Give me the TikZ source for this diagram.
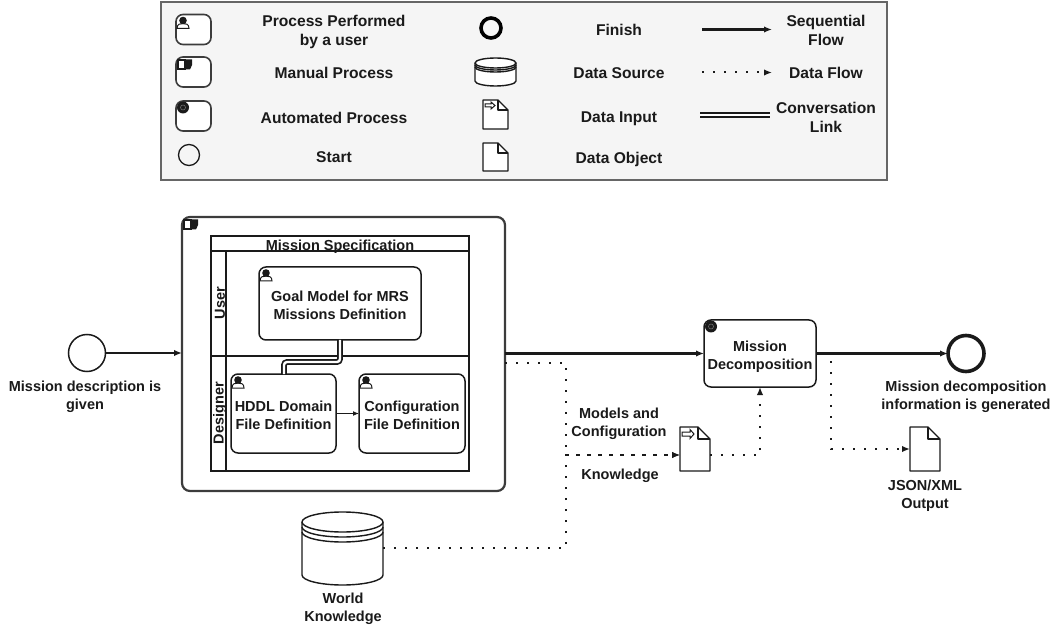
\documentclass[tikz,border=0pt]{standalone}
\usepackage{fontspec}
\setmainfont{Liberation Sans}
\usetikzlibrary{arrows.meta,calc}
\definecolor{ink}{HTML}{1A1A1A}
\definecolor{legbg}{HTML}{F5F5F5}
\definecolor{legln}{HTML}{666666}
\newcommand{\docnode}[6]{%
  \node[inner sep=0pt,outer sep=0pt,minimum width=#4pt,minimum height=#5pt] (#1) at (#2,#3) {};
  \draw[docline,fill=white] (#1.north west) -- ([xshift=-#6pt]#1.north east) -- ([yshift=-#6pt]#1.north east) -- (#1.south east) -- (#1.south west) -- cycle;
  \draw[docline] ([xshift=-#6pt]#1.north east) -- ([xshift=-#6pt,yshift=-#6pt]#1.north east) -- ([yshift=-#6pt]#1.north east);
}
\newcommand{\cylnode}[7]{%
  \node[inner sep=0pt,outer sep=0pt,minimum width=#4pt,minimum height=#5pt] (#1) at (#2,#3) {};
  \draw[docline,fill=white] ([yshift=-#6pt]#1.north west) -- ([yshift=#6pt]#1.south west) arc[start angle=180,end angle=360,x radius=#4pt/2,y radius=#6pt] -- ([yshift=-#6pt]#1.north east) arc[start angle=0,end angle=180,x radius=#4pt/2,y radius=#6pt] -- cycle;
  \draw[docline] ([yshift=-#6pt]#1.north west) arc[start angle=180,end angle=360,x radius=#4pt/2,y radius=#6pt];
  \draw[docline] ([yshift=-#6pt-#7pt]#1.north west) arc[start angle=180,end angle=360,x radius=#4pt/2,y radius=#6pt];
  \draw[docline] ([yshift=-#6pt-2*#7pt]#1.north west) arc[start angle=180,end angle=360,x radius=#4pt/2,y radius=#6pt];
}
\tikzset{
  x=1pt,y=-1pt,
  every node/.style={text=ink},
  legendtext/.style={font=\bfseries\fontsize{15.6}{19}\selectfont,align=center,inner sep=0pt},
  maintext/.style={font=\bfseries\fontsize{14.5}{18}\selectfont,align=center,inner sep=0pt},
  taskbox/.style={draw=ink,line width=1.5pt,rounded corners=7pt,fill=white,inner sep=0pt,outer sep=0pt,font=\bfseries\fontsize{14.5}{18}\selectfont,align=center},
  legendtask/.style={taskbox,minimum width=35pt,minimum height=30pt,draw=ink!85,line width=1.6pt},
  docline/.style={draw=ink,line width=1.4pt,line join=round},
  seqflow/.style={draw=ink,line width=2.2pt,-{Latex[length=8pt,width=6.5pt]}},
  dataflow/.style={draw=ink,line width=2pt,dash pattern=on 2pt off 9pt,-{Latex[length=8pt,width=6.5pt]}},
  convlink/.style={draw=ink,line width=1.7pt,double=white,double distance=2.4pt},
  usericon/.pic={
    \draw[ink,line width=1pt,fill=white] (1,14) .. controls (1,9.5) and (4,9) .. (7,9) .. controls (10,9) and (13,9.5) .. (13,14) -- cycle;
    \fill[ink] (7,6) circle (3.8pt);
  },
  manualicon/.pic={
    \draw[ink,line width=1.2pt,fill=white] (2,3) rectangle (9,12);
    \fill[ink] (9,2.5) -- (16,2.5) -- (16,8) -- (14,12.5) -- (9,12.5) -- cycle;
  },
  gearicon/.pic={
    \fill[ink] (7,6.5) circle (6pt);
    \draw[ink!60,line width=.5pt] (7,6.5) circle (2.5pt);
  },
}
\begin{document}
\begin{tikzpicture}
\useasboundingbox (0,0) rectangle (1055,628);
% ---------- legend
\node[draw=legln,fill=legbg,line width=1.5pt,minimum width=726pt,minimum height=178pt,inner sep=0pt] (legend) at (524,91) {};
\node[legendtask] (ltuser) at (193.5,29.5) {};
\pic at (ltuser.north west) {usericon};
\node[legendtask] (ltman) at (193.5,72) {};
\pic at (ltman.north west) {manualicon};
\node[legendtask] (ltauto) at (193.5,116) {};
\pic at (ltauto.north west) {gearicon};
\node[draw=ink,line width=1.3pt,circle,minimum size=21pt,inner sep=0pt,fill=legbg] (ltstart) at (189,155) {};
\node[legendtext] (t1) at (334,31.5) {Process Performed\\by a user};
\node[legendtext] (t2) at (334,73) {Manual Process};
\node[legendtext] (t3) at (334,117.5) {Automated Process};
\node[legendtext] (t4) at (334,157) {Start};
\node[draw=black,line width=3.6pt,circle,minimum size=20pt,inner sep=0pt,fill=legbg] (ltend) at (491,28) {};
\cylnode{ltcyl}{495.5}{72}{41}{28}{5}{2}
\docnode{ltinput}{495.5}{114.5}{25}{29}{10}
\draw[ink,line width=1pt,fill=white] (485,104) -- (491,104) -- (491,102) -- (495,105.5) -- (491,109) -- (491,107) -- (485,107) -- cycle;
\docnode{ltobj}{495.5}{157}{25}{28}{10}
\node[legendtext] (t5) at (619,30) {Finish};
\node[legendtext] (t6) at (619,73) {Data Source};
\node[legendtext] (t7) at (619,118.5) {Data Input};
\node[legendtext] (t8) at (619,159.5) {Data Object};
\coordinate (ls1) at (702,29.5); \coordinate (ls2) at (772,29.5);
\draw[seqflow] (ls1) -- (ls2);
\coordinate (ld1) at (702,72.5); \coordinate (ld2) at (772,72.5);
\draw[dataflow] (ld1) -- (ld2);
\coordinate (lc1) at (700,115); \coordinate (lc2) at (770,115);
\draw[convlink] (lc1) -- (lc2);
\node[legendtext] (t9) at (826,30.5) {Sequential\\Flow};
\node[legendtext] (t10) at (826,73) {Data Flow};
\node[legendtext] (t11) at (826,117.5) {Conversation\\Link};
% ---------- process
\node[draw=ink!85,line width=2.2pt,rounded corners=8pt,fill=white,minimum width=323pt,minimum height=274pt,inner sep=0pt,outer sep=0pt] (outer) at (343.5,354) {};
\pic at (outer.north west) {manualicon};
% pool
\node[draw=ink,line width=1.5pt,minimum width=258pt,minimum height=235pt,inner sep=0pt,outer sep=0pt] (pool) at (340,353.5) {};
\coordinate (hdr) at (226,251);
\coordinate (lane) at (226,356);
\draw[draw=ink,line width=1.5pt] (pool.west |- hdr) -- (pool.east |- hdr);
\draw[draw=ink,line width=1.5pt] (pool.west |- lane) -- (pool.east |- lane);
\draw[draw=ink,line width=1.5pt] (hdr) -- (hdr |- pool.south);
\node[maintext] (ptitle) at (340,246.5) {Mission Specification};
\node[maintext,rotate=90] (luser) at (220,303) {User};
\node[maintext,rotate=90] (ldes) at (220,413) {Designer};
\node[taskbox,minimum width=162pt,minimum height=73pt] (goal) at (340,303.5) {\rule{0pt}{15pt}Goal Model for MRS\\Missions Definition};
\pic at (goal.north west) {usericon};
\node[taskbox,minimum width=105pt,minimum height=79pt] (hddl) at (283.5,413.5) {\rule{0pt}{15pt}HDDL Domain\\File Definition};
\pic at (hddl.north west) {usericon};
\node[taskbox,minimum width=106pt,minimum height=79pt] (cfg) at (412,413.5) {\rule{0pt}{15pt}Configuration\\File Definition};
\pic at (cfg.north west) {usericon};
\draw[draw=ink,line width=1.2pt,-{Latex[length=6pt,width=5pt]}] (hddl.east) -- (cfg.west);
\coordinate (cv1) at (340,362);
\coordinate (cv2) at (284,362);
\draw[convlink,rounded corners=3pt] (goal.south -| cv1) -- (cv1) -- (cv2) -- (cv2 |- hddl.north);
% start / end
\node[draw=ink,line width=1.5pt,circle,minimum size=37pt,inner sep=0pt,outer sep=0pt,fill=white] (start) at (87,353) {};
\node[maintext] (startl) at (85,396.5) {Mission description is\\given};
\draw[seqflow] (start.east) -- (start.east -| outer.west);
\node[taskbox,minimum width=112pt,minimum height=67pt] (decomp) at (760,353.5) {\rule{0pt}{16.5pt}Mission\\Decomposition};
\pic at (decomp.north west) {gearicon};
\draw[seqflow] (outer.east |- decomp.west) -- (decomp.west);
\node[draw=ink,line width=3.6pt,circle,minimum size=36pt,inner sep=0pt,outer sep=0pt,fill=white] (endev) at (966,353.5) {};
\node[maintext] (endl) at (966,396.5) {Mission decomposition\\information is generated};
% data
\docnode{input}{695}{449}{30}{44}{12}
\draw[ink,line width=1pt,fill=white] (682,432) -- (690,432) -- (690,429.5) -- (694,434) -- (690,438.5) -- (690,436) -- (682,436) -- cycle;
\node[maintext] (lmodels) at (619,424) {Models and\\Configuration};
\node[maintext] (lknow) at (620,476) {Knowledge};
\docnode{json}{925}{449}{30}{44}{12}
\node[maintext] (ljson) at (925,496) {JSON/XML\\Output};
\cylnode{wk}{342.5}{548.5}{81}{73}{10}{5}
\node[maintext] (lwk) at (343,609) {World\\Knowledge};
\coordinate (j1) at (566,363);
\coordinate (j2) at (566,455);
\coordinate (j3) at (566,548);
\coordinate (j4) at (760,455);
\coordinate (j5) at (831,354);
\coordinate (j6) at (831,449);
\draw[dataflow] (outer.east |- j1) -- (j1) -- (j2) -- (j2 -| input.west);
\draw[dataflow] (j3 -| wk.east) -- (j3) -- (j2) -- (j2 -| input.west);
\draw[dataflow] (j2 -| input.east) -- (j4) -- (decomp.south);
\draw[dataflow] (decomp.east |- j5) -- (j5) -- (j6) -- (json.west);
\draw[seqflow] (decomp.east) -- (endev.west);
\end{tikzpicture}
\end{document}
